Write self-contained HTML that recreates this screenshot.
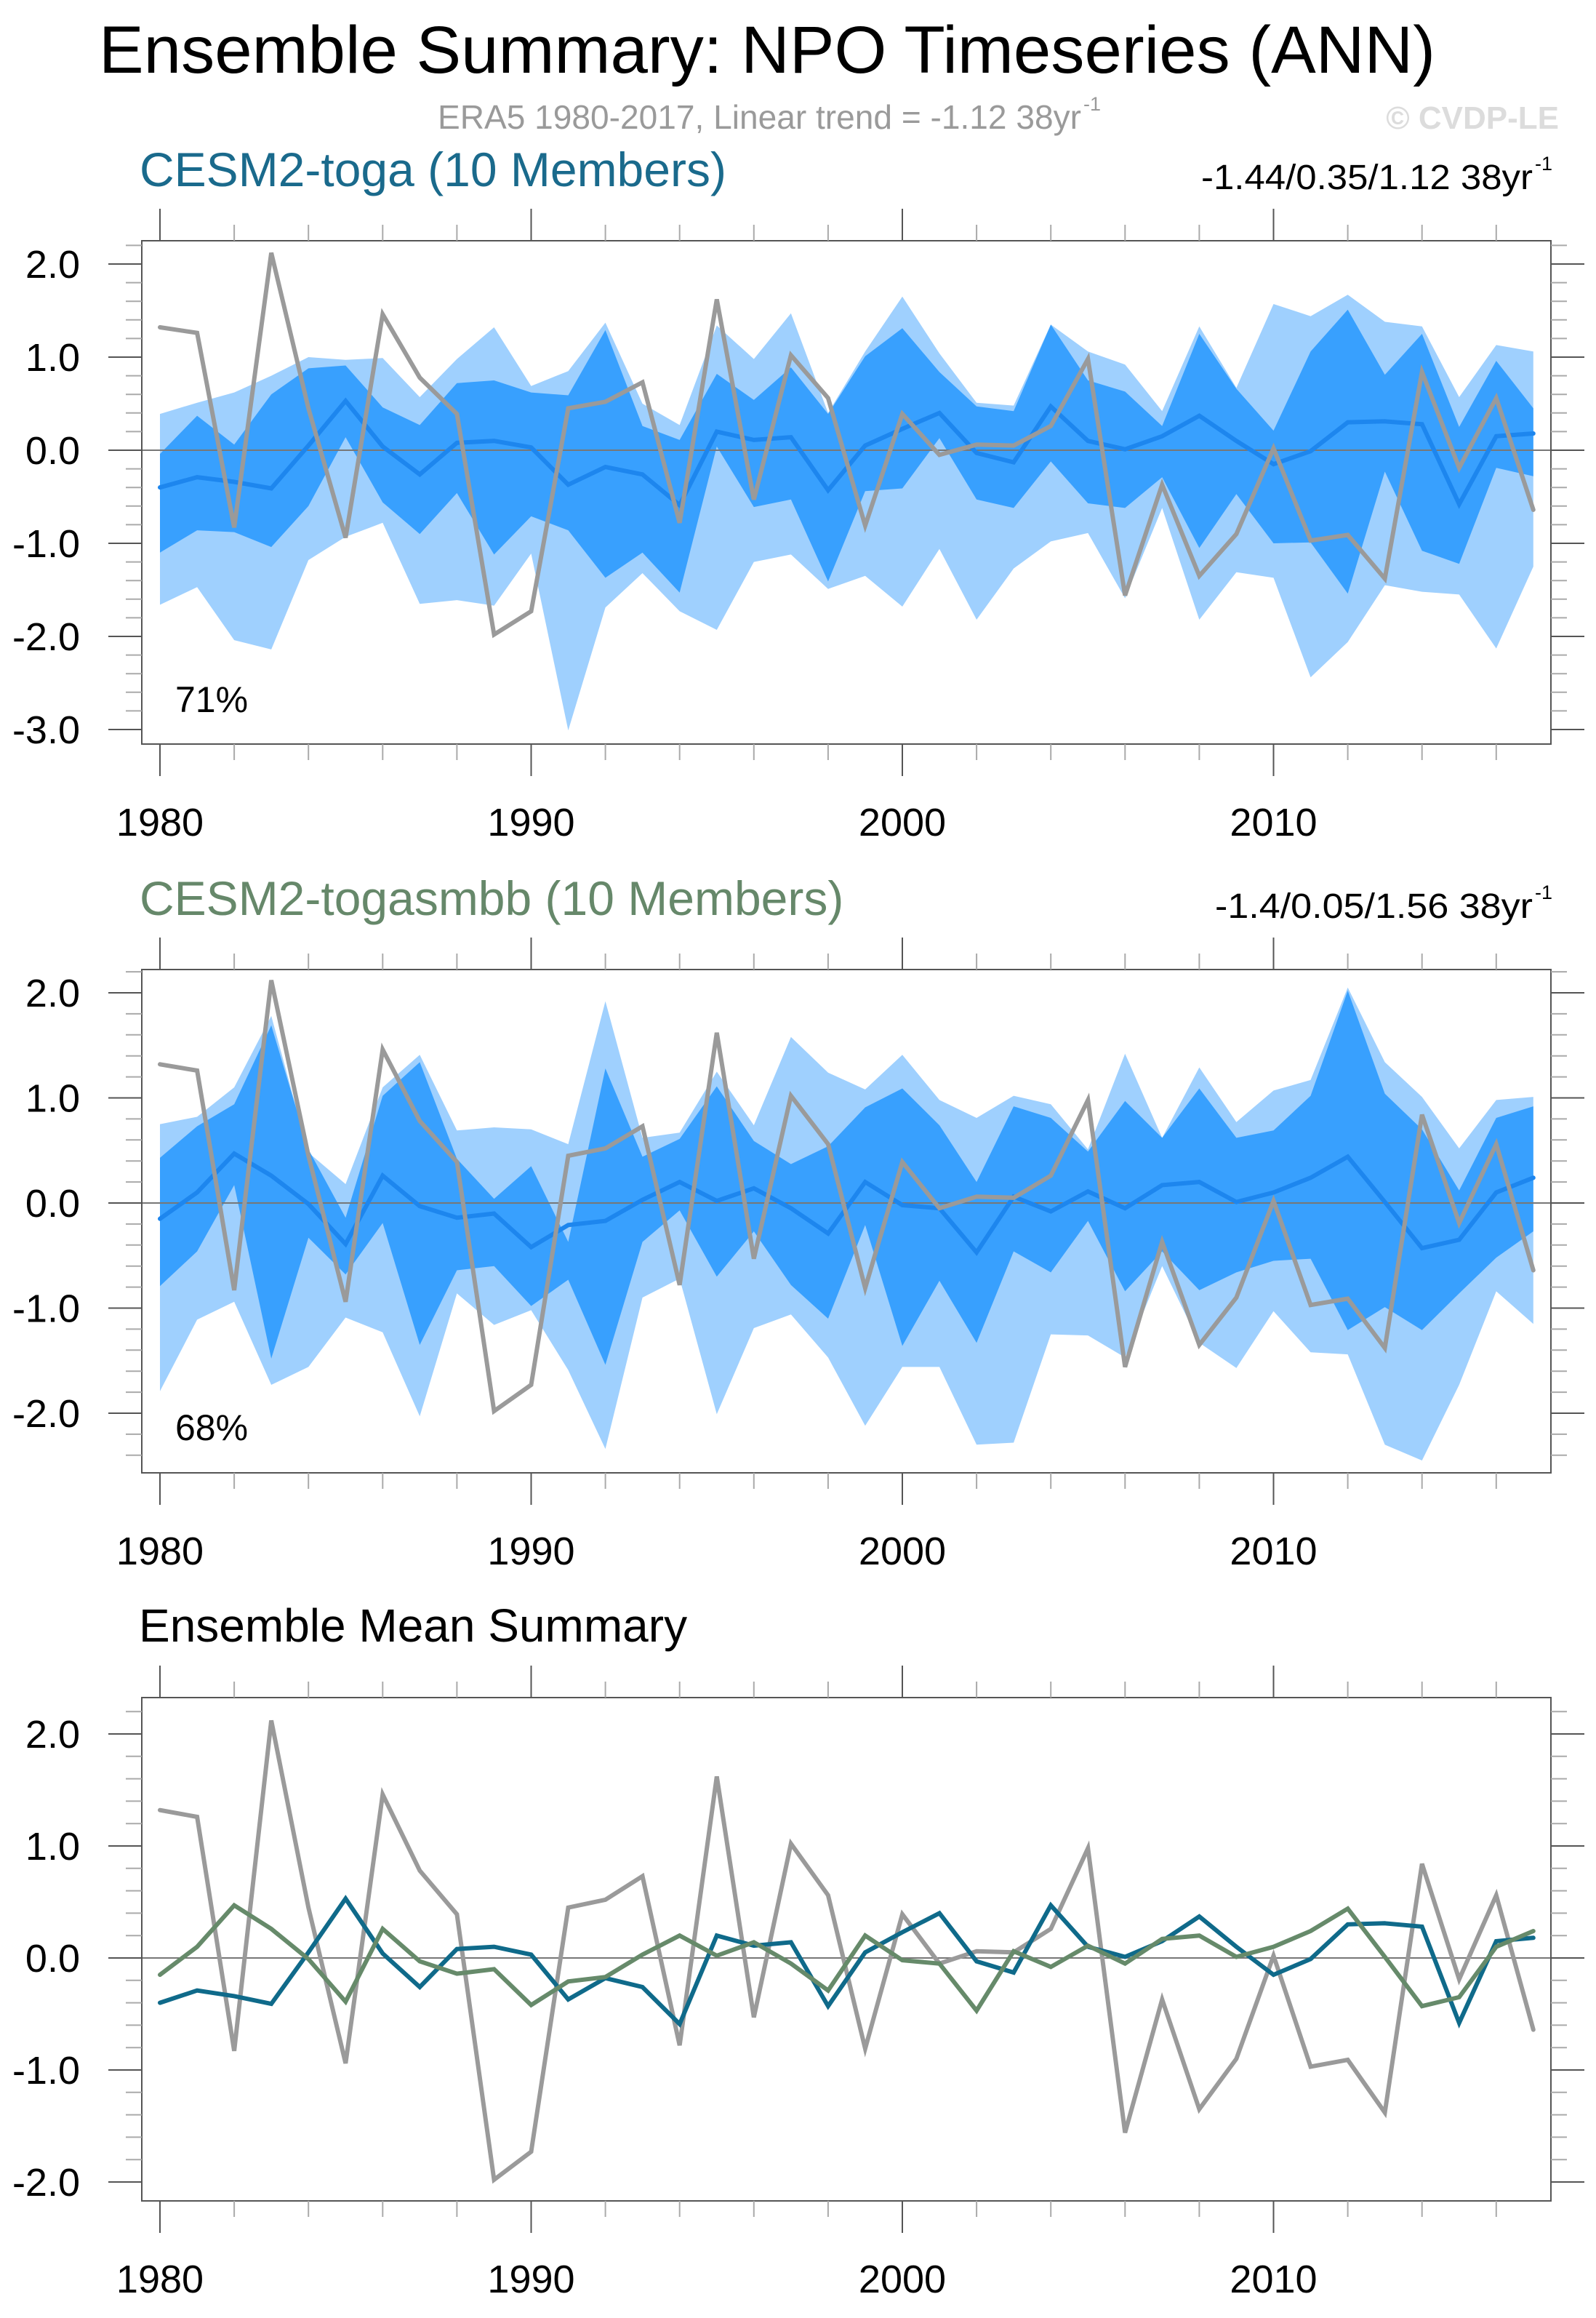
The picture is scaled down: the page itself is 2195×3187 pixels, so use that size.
<!DOCTYPE html>
<html><head><meta charset="utf-8"><style>
html,body{margin:0;padding:0;background:#fff;}
svg{display:block;font-family:"Liberation Sans",sans-serif;}
</style></head><body>
<svg id="chart" xmlns="http://www.w3.org/2000/svg" width="2195" height="3187" viewBox="0 0 2195 3187">
<rect width="2195" height="3187" fill="#fff"/>
<text x="136" y="100" font-size="92" textLength="1838" lengthAdjust="spacingAndGlyphs" fill="#000">Ensemble Summary: NPO Timeseries (ANN)</text>
<text x="602" y="177" font-size="46" textLength="885" lengthAdjust="spacingAndGlyphs" fill="#9a9a9a">ERA5 1980-2017, Linear trend = -1.12 38yr</text>
<text x="1490" y="152" font-size="27" fill="#9a9a9a">-1</text>
<text x="2144" y="177" font-size="44" font-weight="bold" text-anchor="end" fill="#dcdcdc">© CVDP-LE</text>

<text x="192" y="256" font-size="66" fill="#1a6a8c">CESM2-toga (10 Members)</text>
<text x="1652" y="260" font-size="48" textLength="456" lengthAdjust="spacingAndGlyphs" fill="#000">-1.44/0.35/1.12 38yr</text>
<text x="2111" y="234" font-size="27" fill="#000">-1</text>
<text x="192" y="1258" font-size="66" fill="#66886a">CESM2-togasmbb (10 Members)</text>
<text x="1671" y="1262" font-size="48" textLength="437" lengthAdjust="spacingAndGlyphs" fill="#000">-1.4/0.05/1.56 38yr</text>
<text x="2111" y="1236" font-size="27" fill="#000">-1</text>
<text x="191" y="2257" font-size="64" fill="#000">Ensemble Mean Summary</text>
<g id="plots"></g>
</svg>
<script>
const years = [];
for (let y = 1980; y <= 2017; y++) years.push(y);
const obsERA5 = [1.32,1.26,-0.83,2.12,0.45,-0.94,1.46,0.78,0.39,-1.98,-1.73,0.45,0.52,0.73,-0.78,1.62,-0.53,1.02,0.56,-0.81,0.39,-0.05,0.06,0.05,0.26,0.98,-1.56,-0.37,-1.35,-0.9,0.02,-0.97,-0.91,-1.38,0.84,-0.19,0.56,-0.64];
const togaMean = [-0.40,-0.29,-0.34,-0.41,0.05,0.53,0.04,-0.26,0.08,0.10,0.03,-0.37,-0.18,-0.26,-0.59,0.20,0.11,0.14,-0.43,0.05,0.23,0.40,-0.03,-0.13,0.47,0.10,0.01,0.15,0.37,0.10,-0.15,-0.01,0.30,0.31,0.28,-0.58,0.15,0.18];
const togaDarkHi = [-0.04,0.37,0.06,0.60,0.88,0.91,0.46,0.27,0.72,0.75,0.62,0.59,1.29,0.26,0.11,0.82,0.54,0.89,0.39,1.01,1.31,0.84,0.47,0.42,1.35,0.75,0.63,0.26,1.25,0.66,0.21,1.06,1.51,0.81,1.25,0.25,0.96,0.45];
const togaDarkLo = [-1.10,-0.86,-0.88,-1.04,-0.60,0.14,-0.56,-0.90,-0.46,-1.12,-0.71,-0.86,-1.37,-1.10,-1.53,0.04,-0.61,-0.53,-1.41,-0.44,-0.41,0.13,-0.53,-0.62,-0.12,-0.57,-0.62,-0.29,-1.05,-0.47,-1.00,-0.99,-1.54,-0.23,-1.08,-1.22,-0.19,-0.28];
const togaLightHi = [0.39,0.51,0.62,0.80,1.00,0.97,0.99,0.57,0.98,1.32,0.69,0.85,1.37,0.50,0.27,1.34,0.98,1.47,0.40,1.06,1.65,1.04,0.51,0.48,1.35,1.06,0.92,0.42,1.33,0.67,1.57,1.44,1.67,1.38,1.33,0.57,1.13,1.06];
const togaLightLo = [-1.66,-1.47,-2.04,-2.14,-1.18,-0.93,-0.78,-1.65,-1.61,-1.67,-1.11,-3.01,-1.69,-1.32,-1.73,-1.93,-1.20,-1.12,-1.49,-1.35,-1.68,-1.06,-1.82,-1.27,-0.98,-0.89,-1.59,-0.62,-1.82,-1.31,-1.37,-2.44,-2.06,-1.45,-1.52,-1.55,-2.13,-1.25];
const smbbMean = [-0.15,0.10,0.47,0.26,-0.01,-0.39,0.26,-0.03,-0.14,-0.10,-0.42,-0.21,-0.17,0.03,0.20,0.02,0.14,-0.05,-0.29,0.20,-0.02,-0.05,-0.47,0.06,-0.08,0.11,-0.05,0.17,0.20,0.01,0.10,0.24,0.44,0.01,-0.43,-0.35,0.10,0.24];
const smbbDarkHi = [0.43,0.73,0.94,1.69,0.51,-0.14,1.02,1.34,0.42,0.04,0.35,-0.37,1.28,0.44,0.61,1.11,0.59,0.37,0.54,0.91,1.09,0.74,0.20,0.92,0.81,0.49,0.97,0.62,1.09,0.62,0.69,1.02,2.02,1.04,0.70,0.12,0.81,0.92];
const smbbDarkLo = [-0.79,-0.46,0.17,-1.48,-0.33,-0.68,-0.19,-1.35,-0.64,-0.60,-0.98,-0.73,-1.54,-0.37,-0.07,-0.70,-0.27,-0.78,-1.10,-0.21,-1.36,-0.74,-1.33,-0.46,-0.66,-0.17,-0.84,-0.46,-0.83,-0.66,-0.55,-0.53,-1.21,-0.99,-1.21,-0.86,-0.52,-0.27];
const smbbLightHi = [0.75,0.82,1.10,1.78,0.48,0.18,1.10,1.41,0.69,0.72,0.70,0.56,1.92,0.62,0.67,1.25,0.74,1.58,1.24,1.08,1.41,0.98,0.81,1.02,0.94,0.51,1.42,0.62,1.29,0.77,1.07,1.17,2.05,1.34,1.01,0.52,0.98,1.01];
const smbbLightLo = [-1.79,-1.11,-0.94,-1.73,-1.56,-1.09,-1.23,-2.03,-0.86,-1.16,-1.02,-1.59,-2.34,-0.90,-0.72,-2.01,-1.19,-1.06,-1.47,-2.12,-1.56,-1.56,-2.30,-2.28,-1.25,-1.26,-1.47,-0.60,-1.33,-1.57,-1.03,-1.42,-1.44,-2.30,-2.45,-1.73,-0.84,-1.15];
const xTickLabels = ["1980","1990","2000","2010"];
const yTickLabelsP1 = ["2.0","1.0","0.0","-1.0","-2.0","-3.0"];
const yTickLabelsP23 = ["2.0","1.0","0.0","-1.0","-2.0"];

const NS = "http://www.w3.org/2000/svg";
const root = document.getElementById("plots");
const BOX_L = 195, BOX_R = 2133;
function xPos(yr){ return 220 + (yr - 1980) * 51.05; }
function mk(tag, attrs, parent){
  const e = document.createElementNS(NS, tag);
  for (const k in attrs) e.setAttribute(k, attrs[k]);
  (parent || root).appendChild(e);
  return e;
}
function makeY(zero, unit){ return v => zero - v * unit; }

function band(g, hi, lo, yS, color, name){
  let d = "";
  years.forEach((yr,i)=>{ d += (i?"L":"M") + xPos(yr).toFixed(1) + "," + yS(hi[i]).toFixed(1); });
  for (let i = years.length-1; i >= 0; i--) d += "L" + xPos(years[i]).toFixed(1) + "," + yS(lo[i]).toFixed(1);
  const p = mk("path", {d: d + "Z", fill: color}, g);
  
  
}
function line(g, vals, yS, color, w, name){
  const pts = years.map((yr,i)=> xPos(yr).toFixed(1) + "," + yS(vals[i]).toFixed(1)).join(" ");
  const p = mk("polyline", {points: pts, fill: "none", stroke: color, "stroke-width": w, "stroke-linejoin": "miter", "stroke-linecap": "round"}, g);
  
  
}

function panel(idx, top, bottom, zero, unit, yLabels, vmin, vmax, draw, pctText, pctY){
  const g = mk("g", {});
  
  
  const yS = makeY(zero, unit);
  const clipId = "clip" + idx;
  const cp = mk("clipPath", {id: clipId}, g);
  mk("rect", {x: BOX_L, y: top, width: BOX_R - BOX_L, height: bottom - top}, cp);
  const inner = mk("g", {"clip-path": "url(#" + clipId + ")"}, g);
  draw(inner, yS);
  const box = mk("rect", {x: BOX_L, y: top, width: BOX_R - BOX_L, height: bottom - top, fill: "none", stroke: "#555", "stroke-width": 2}, g);
  
  
  for (let yr = 1980; yr <= 2018; yr += 2){
    const x = xPos(yr);
    if (x > BOX_R) continue;
    const major = (yr % 10 === 0);
    const L = major ? 44 : 22;
    mk("line", {x1: x, x2: x, y1: top, y2: top - L, stroke: major ? "#555" : "#aaa", "stroke-width": 2}, g);
    mk("line", {x1: x, x2: x, y1: bottom, y2: bottom + L, stroke: major ? "#555" : "#aaa", "stroke-width": 2}, g);
  }
  xTickLabels.forEach(lbl=>{
    const t = mk("text", {x: xPos(+lbl), y: bottom + 126, "font-size": 54, "text-anchor": "middle", fill: "#000"}, g);
    t.textContent = lbl;
    
    
  });
  for (let k = Math.round(vmin*5); k <= Math.round(vmax*5); k++){
    const v = k / 5;
    const y = yS(v);
    if (y < top - 1 || y > bottom + 1) continue;
    const major = (k % 5 === 0);
    const L = major ? 46 : 22;
    mk("line", {x1: BOX_L, x2: BOX_L - L, y1: y, y2: y, stroke: major ? "#555" : "#aaa", "stroke-width": 2}, g);
    mk("line", {x1: BOX_R, x2: BOX_R + L, y1: y, y2: y, stroke: major ? "#555" : "#aaa", "stroke-width": 2}, g);
  }
  yLabels.forEach(lbl=>{
    const t = mk("text", {x: 110, y: yS(parseFloat(lbl)) + 19, "font-size": 54, "text-anchor": "end", fill: "#000"}, g);
    t.textContent = lbl;
    
    
  });
  if (pctText){
    const t = mk("text", {x: 241, y: pctY, "font-size": 50, fill: "#000"}, g);
    t.textContent = pctText;
    
    
  }
}
function zeroLine(g, yS){
  const l = mk("line", {x1: BOX_L, x2: BOX_R, y1: yS(0), y2: yS(0), stroke: "#777", "stroke-width": 2}, g);
  
  
}

panel(1, 331, 1023, 619, 128, yTickLabelsP1, -3.2, 2.2, (g, yS)=>{
  band(g, togaLightHi, togaLightLo, yS, "#9fd0fe", "toga-minmax-band");
  band(g, togaDarkHi, togaDarkLo, yS, "#38a0fe", "toga-percentile-band");
  zeroLine(g, yS);
  line(g, togaMean, yS, "#1d86ee", 6, "toga-ensemble-mean-line");
  line(g, obsERA5, yS, "#9a9a9a", 6, "era5-obs-line");
}, "71%", 979);

panel(2, 1333, 2025, 1654, 144.5, yTickLabelsP23, -2.6, 2.2, (g, yS)=>{
  band(g, smbbLightHi, smbbLightLo, yS, "#9fd0fe", "togasmbb-minmax-band");
  band(g, smbbDarkHi, smbbDarkLo, yS, "#38a0fe", "togasmbb-percentile-band");
  zeroLine(g, yS);
  line(g, smbbMean, yS, "#1d86ee", 6, "togasmbb-ensemble-mean-line");
  line(g, obsERA5, yS, "#9a9a9a", 6, "era5-obs-line");
}, "68%", 1980);

panel(3, 2334, 3026, 2692, 154, yTickLabelsP23, -2.2, 2.2, (g, yS)=>{
  zeroLine(g, yS);
  line(g, obsERA5, yS, "#9a9a9a", 6, "era5-obs-line");
  line(g, togaMean, yS, "#0f6a8a", 6, "toga-mean-line");
  line(g, smbbMean, yS, "#668a6a", 6, "togasmbb-mean-line");
}, null, 0);
</script>
</body></html>
